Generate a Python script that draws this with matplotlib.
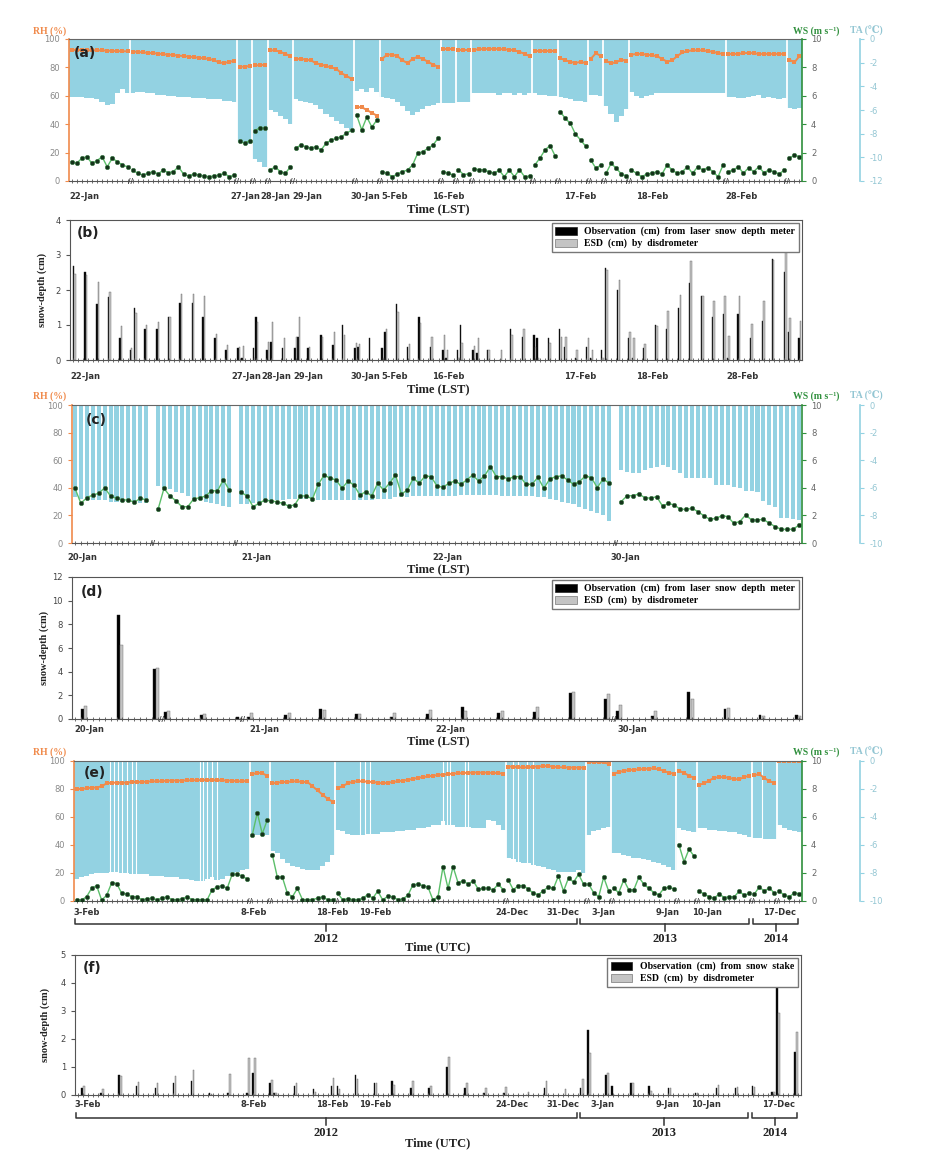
import numpy as np
import matplotlib
matplotlib.use("Agg")
import matplotlib.pyplot as plt
from matplotlib.patches import Patch
from matplotlib.ticker import MultipleLocator

plt.rcParams['axes.unicode_minus'] = False
plt.rcParams['font.family'] = ['DejaVu Sans']

# ---------------- data ----------------
# (a) meteorology, LST, events split into segments
a_seg_len = [12, 21, 3, 3, 5, 12, 5, 12, 3, 3, 12, 5, 6, 3, 5, 19, 12, 3]
a_rh = [92.3, 92.3, 92.2, 92.1, 92, 92, 92, 91.8, 91.6, 91.5, 91.4, 91.3,
        91, 91, 90.5, 90.3, 90, 89.7, 89.3, 89, 88.7, 88.3, 88, 87.6, 87.2, 86.8, 86.4, 86, 85, 83.5, 83, 84, 84.5,
        80.5, 80.5, 81,
        81.5, 81.5, 82,
        92, 92, 91, 89.5, 88,
        86, 86, 85.5, 85, 83, 82, 81, 80, 79, 76, 74, 72,
        52, 52, 50, 48, 46,
        86, 89, 89, 88, 85, 83, 86, 87.5, 86, 84, 82, 80.5,
        93, 93, 93,
        92.5, 92.5, 92.5,
        92.5, 92.7, 93, 93, 93, 93, 92.7, 92.5, 92, 91, 89.5, 88,
        91.8, 91.8, 91.8, 91.8, 91.8,
        86.5, 85, 84, 83, 84, 83,
        86, 90, 88,
        84.5, 83, 83.5, 85.5, 84.5,
        89, 89.5, 89.5, 89, 88.5, 88, 86, 84, 85, 88, 90.5, 91.5, 92, 92, 92, 91.5, 91, 90, 89.5,
        89.5, 89.5, 89.5, 90, 90.2, 90, 89.5, 89.5, 89.5, 89.5, 89.5, 89.5,
        85.5, 83.5, 88]
a_ws = [1.36, 1.24, 1.6, 1.71, 1.24, 1.43, 1.71, 1.0, 1.6, 1.36, 1.13, 1.0,
        0.77, 0.54, 0.42, 0.54, 0.66, 0.49, 0.77, 0.59, 0.66, 1.0, 0.49, 0.35, 0.49, 0.42, 0.35, 0.3, 0.35, 0.42, 0.54, 0.3, 0.42,
        2.8, 2.65, 2.85,
        3.55, 3.75, 3.7,
        0.77, 1.0, 0.66, 0.54, 1.0,
        2.3, 2.53, 2.42, 2.3, 2.42, 2.18, 2.65, 2.89, 3.0, 3.12, 3.35, 3.59,
        4.65, 3.6, 4.5, 3.8, 4.3,
        0.66, 0.54, 0.3, 0.49, 0.66, 0.77, 1.13, 1.95, 2.06, 2.3, 2.53, 3.0,
        0.66, 0.54, 0.42,
        0.8, 0.45, 0.5,
        0.85, 0.8, 0.77, 0.66, 0.54, 0.77, 0.3, 0.77, 0.3, 0.8, 0.3, 0.35,
        1.13, 1.6, 2.18, 2.5, 1.77,
        4.88, 4.41, 4.05, 3.3, 2.89, 2.45,
        1.48, 0.9, 1.13,
        0.54, 1.24, 0.9, 0.5, 0.35,
        0.77, 0.54, 0.3, 0.49, 0.54, 0.66, 0.49, 1.13, 0.77, 0.54, 0.66, 1.0, 0.54, 1.0, 0.77, 0.94, 0.66, 0.3, 1.13,
        0.66, 0.77, 1.0, 0.54, 0.94, 0.66, 1.0, 0.59, 0.77, 0.66, 0.49, 0.77,
        1.6, 1.83, 1.71]
a_ta = [-4.9, -4.9, -4.9, -5.0, -5.0, -5.1, -5.3, -5.6, -5.5, -4.6, -4.2, -4.6,
        -4.6, -4.5, -4.5, -4.6, -4.6, -4.7, -4.7, -4.8, -4.8, -4.9, -4.9, -4.9, -5.0, -5.0, -5.0, -5.1, -5.1, -5.1, -5.2, -5.2, -5.3,
        -8.7, -8.8, -8.9,
        -10.1, -10.4, -10.8,
        -6.0, -6.2, -6.5, -6.8, -7.2,
        -5.1, -5.2, -5.3, -5.4, -5.6, -5.9, -6.3, -6.6, -6.9, -7.2, -7.5, -7.7,
        -4.4, -4.2, -4.5, -4.1, -4.5,
        -4.9, -5.0, -5.1, -5.3, -5.7, -6.1, -6.4, -6.2, -5.9, -5.7, -5.6, -5.4,
        -5.4, -5.4, -5.4,
        -5.3, -5.3, -5.3,
        -4.6, -4.6, -4.6, -4.6, -4.6, -4.7, -4.6, -4.6, -4.7, -4.6, -4.7, -4.6,
        -4.6, -4.7, -4.7, -4.8, -4.8,
        -4.9, -5.0, -5.1, -5.2, -5.2, -5.3,
        -4.7, -4.7, -4.8,
        -5.7, -6.3, -7.0, -6.5, -5.9,
        -4.5, -4.8, -5.0, -4.8, -4.7, -4.6, -4.6, -4.6, -4.6, -4.6, -4.6, -4.6, -4.6, -4.6, -4.6, -4.6, -4.6, -4.6, -4.6,
        -4.9, -4.9, -5.0, -5.0, -4.9, -4.8, -4.7, -5.0, -4.9, -5.0, -5.1, -5.0,
        -5.8, -5.9, -5.8]
ab_tick_pos = [2.6, 34.1, 40.0, 46.3, 57.7, 63.4, 74.0, 99.9, 114.0, 131.7]
ab_tick_lab = ['22-Jan', '27-Jan', '28-Jan', '29-Jan', '30-Jan', '5-Feb', '16-Feb', '17-Feb', '18-Feb', '28-Feb']

# (b) snow depth
b_pos = [0.3, 2.6, 5.0, 7.2, 9.5, 11.5, 12.3, 14.4, 16.8, 19.0, 21.3, 23.7, 25.8, 28.2, 30.3,
         32.7, 33.5, 35.7, 36.2, 38.4, 39.2, 41.5, 43.9, 44.5, 46.5, 49.0, 51.4, 53.3, 55.7, 56.3,
         58.6, 61.0, 61.6, 63.9, 66.1, 68.3, 70.6, 73.0, 73.6, 75.9, 76.5, 78.9, 79.7, 81.8, 84.2,
         86.3, 88.7, 90.9, 91.5, 93.8, 96.0, 96.9, 99.1, 101.3, 102.1, 104.2, 105.0, 107.4, 109.5, 110.3,
         112.5, 114.8, 117.0, 119.4, 121.5, 123.9, 126.0, 128.2, 129.0, 131.1, 133.5, 135.9, 137.8, 140.2, 141.0,
         143.1]
b_obs = [2.7, 2.52, 1.6, 1.8, 0.62, 0.3, 1.5, 0.9, 0.9, 1.22, 1.62, 1.62, 1.22, 0.62, 0.29,
         0.33, 0.05, 0.33, 1.22, 0.29, 0.52, 0.33, 0.33, 0.67, 0.33, 0.71, 0.43, 1.0, 0.33, 0.38,
         0.62, 0.33, 0.81, 1.6, 0.38, 1.22, 0.38, 0.3, 0.05, 0.29, 1.0, 0.3, 0.19, 0.3, 0.0,
         0.9, 0.67, 0.71, 0.62, 0.62, 0.9, 0.38, 0.05, 0.38, 0.05, 0.3, 2.62, 2.0, 0.62, 0.05,
         0.33, 1.0, 0.9, 1.5, 2.21, 1.84, 1.22, 1.31, 0.05, 1.31, 0.62, 1.12, 2.9, 2.52, 0.81,
         0.62]
b_esd = [2.45, 2.43, 2.24, 1.95, 0.97, 0.33, 1.33, 1.0, 1.1, 1.22, 1.88, 1.9, 1.84, 0.74, 0.43,
         0.38, 0.4, 0.05, 1.1, 0.52, 1.1, 0.62, 0.67, 1.22, 0.38, 0.67, 0.81, 0.71, 0.48, 0.45,
         0.0, 0.05, 0.9, 1.38, 0.45, 1.05, 0.67, 0.71, 0.3, 0.05, 0.48, 0.4, 0.62, 0.3, 0.3,
         0.71, 0.9, 0.38, 0.05, 0.48, 0.67, 0.67, 0.3, 0.62, 0.3, 0.05, 2.57, 2.29, 0.81, 0.62,
         0.45, 0.97, 1.4, 1.86, 2.83, 1.84, 1.69, 1.83, 0.69, 1.83, 1.03, 1.7, 2.86, 3.4, 1.19,
         1.12]

# (c) meteorology, LST
c_seg_len = [13, 13, 63, 31]
c_ws = [3.96, 2.88, 3.28, 3.48, 3.6, 4.0, 3.4, 3.24, 3.12, 3.12, 2.95, 3.24, 3.12,
        2.44, 3.96, 3.4, 3.07, 2.63, 2.63, 3.19, 3.28, 3.4, 3.79, 3.77, 4.57, 3.84,
        3.67, 3.41, 2.63, 2.87, 3.12, 3.04, 2.99, 2.87, 2.68, 2.75,
        3.41, 3.41, 3.19, 4.25, 4.93, 4.69, 4.57, 3.96, 4.49, 4.2,
        3.48, 3.72, 3.41, 4.33, 3.84, 4.33, 4.93, 3.55, 3.84, 4.69,
        4.33, 4.86, 4.81, 4.13, 4.04, 4.33, 4.49, 4.25, 4.57, 4.93,
        4.49, 4.86, 5.53, 4.81, 4.81, 4.64, 4.81, 4.81, 4.25, 4.25,
        4.76, 3.96, 4.64, 4.81, 4.86, 4.57, 4.25, 4.45, 4.86, 4.74,
        4.02, 4.64, 4.33,
        2.99, 3.41, 3.43, 3.55, 3.29, 3.24, 3.36, 2.68, 2.87, 2.75,
        2.44, 2.44, 2.51, 2.27, 1.96, 1.71, 1.79, 1.98, 1.91, 1.43,
        1.55, 2.03, 1.67, 1.67, 1.71, 1.43, 1.19, 0.99, 0.99, 0.99,
        1.31]
c_ta = [-6.7, -6.8, -6.8, -6.9, -6.9, -6.9, -7.0, -7.0, -7.0, -7.0, -7.0, -7.1, -7.1,
        -5.9, -6.0, -6.1, -6.3, -6.4, -6.6, -6.8, -6.9, -7.0, -7.1, -7.2, -7.3, -7.4,
        -7.2, -7.2, -7.1, -7.1, -7.0, -6.9, -6.9, -6.9, -6.8, -6.8,
        -6.8, -6.8, -6.8, -6.9, -6.9, -6.9, -6.9, -6.9, -6.9, -6.9,
        -6.9, -6.9, -6.9, -6.8, -6.8, -6.8, -6.7, -6.7, -6.7, -6.6,
        -6.6, -6.6, -6.6, -6.6, -6.6, -6.6, -6.6, -6.5, -6.5, -6.5,
        -6.5, -6.5, -6.5, -6.5, -6.6, -6.6, -6.6, -6.6, -6.6, -6.6,
        -6.7, -6.7, -6.8, -6.9, -7.0, -7.1, -7.2, -7.4, -7.5, -7.7,
        -7.8, -8.0, -8.4,
        -4.71, -4.83, -4.95, -4.95, -4.71, -4.59, -4.52, -4.35, -4.47, -4.71,
        -4.95, -5.31, -5.31, -5.31, -5.31, -5.27, -5.8, -5.8, -5.8, -5.92,
        -6.04, -6.21, -6.21, -6.28, -6.93, -7.25, -7.42, -8.21, -8.21, -8.29,
        -8.33]
c_tick_pos = [1.2, 30.5, 62.7, 92.8]
cd_tick_lab = ['20-Jan', '21-Jan', '22-Jan', '30-Jan']

# (d) snow depth
d_pos = [1.5, 7.6, 13.7, 15.5, 21.6, 27.7, 29.5, 35.8, 41.7, 47.7, 53.6, 59.7,
         65.6, 71.7, 77.7, 83.7, 89.7, 91.7, 97.6, 103.7, 109.8, 115.7, 121.8]
d_obs = [0.85, 8.76, 4.24, 0.62, 0.31, 0.2, 0.2, 0.31, 0.82, 0.42, 0.2, 0.42,
         1.02, 0.54, 0.62, 2.23, 1.67, 0.65, 0.25, 2.32, 0.82, 0.34, 0.31]
d_esd = [1.1, 6.27, 4.29, 0.65, 0.42, 0.06, 0.54, 0.48, 0.76, 0.42, 0.54, 0.76,
         0.65, 0.7, 1.02, 2.29, 2.15, 1.21, 0.65, 1.67, 0.96, 0.28, 0.23]
d_tick_pos = [2.4, 31.9, 63.2, 93.9]
d_breaks = [14.5, 28.3, 90.8]

# (e) meteorology, UTC
e_seg_len = [35, 4, 13, 34, 16, 5, 13, 4, 11, 5, 5]
e_rh = [80, 80, 80.5, 81, 81, 82, 84, 84.5, 84.5, 84.5, 84.5, 85, 85, 85, 85.2, 85.5, 85.5, 85.5, 86, 86,
        86, 86, 86.2, 86.2, 86.4, 86.4, 86.4, 86.4, 86.3, 86.2, 86, 86, 85.5, 85.5, 85.8,
        90.5, 91.7, 91.2, 89.5,
        84, 84.5, 85, 85, 85.5, 85.5, 85, 85, 82, 79, 76, 73, 71,
        80.5, 82, 84, 85.2, 85.5, 85.5, 85.2, 85, 84.5, 84, 84.5, 85, 85.5, 86, 86.5, 87.2, 88, 88.5, 89, 89.5,
        90, 90.3, 90.6, 91, 91.2, 91.4, 91.6, 91.7, 91.7, 91.7, 91.6, 91.5, 91.3, 91,
        96, 96, 95.5, 95.5, 95.5, 96, 96, 96.4, 96.4, 96, 95.5, 95.5, 95.3, 95.3, 95.3, 95.3,
        99.3, 99.3, 99.2, 99, 98,
        91, 92, 93, 93.5, 93.8, 94, 94.3, 94.5, 94.8, 94, 93, 91.5, 91,
        93, 91.5, 89.5, 88,
        83, 84, 86, 88, 88.5, 88.5, 88, 87, 87, 88.5, 89.5,
        90, 90.5, 88, 85.5, 84.5,
        100, 100, 100, 100, 100]
e_ws = [0.07, 0.07, 0.3, 0.9, 1.1, 0.07, 0.4, 1.3, 1.25, 0.55, 0.5, 0.3, 0.3, 0.1, 0.15, 0.2, 0.1, 0.2, 0.3, 0.1,
        0.1, 0.15, 0.3, 0.1, 0.1, 0.1, 0.07, 0.8, 1.0, 1.1, 0.9, 1.9, 1.9, 1.8, 1.55,
        4.7, 6.3, 4.8, 5.8,
        3.3, 1.7, 1.7, 0.55, 0.3, 0.9, 0.1, 0.1, 0.1, 0.2, 0.3, 0.1, 0.1,
        0.55, 0.1, 0.15, 0.1, 0.1, 0.2, 0.45, 0.2, 0.7, 0.07, 0.35, 0.3, 0.1, 0.15, 0.4, 1.15, 1.2, 1.1, 1.0, 0.07,
        0.3, 2.45, 0.9, 2.45, 1.3, 1.45, 1.2, 1.45, 0.85, 0.9, 0.9, 0.8, 1.2, 0.8,
        1.5, 0.8, 1.1, 1.1, 0.85, 0.55, 0.45, 0.75, 1.0, 0.9, 1.8, 0.7, 1.65, 1.35, 1.9, 1.2,
        1.2, 0.6, 0.3, 1.7, 0.7,
        0.9, 0.6, 1.5, 0.8, 0.8, 1.7, 1.2, 0.9, 0.6, 0.45, 0.9, 1.0, 0.85,
        4.0, 2.8, 3.7, 3.2,
        0.7, 0.5, 0.3, 0.2, 0.5, 0.25, 0.3, 0.3, 0.7, 0.4, 0.55,
        0.5, 1.0, 0.7, 0.95, 0.55,
        0.7, 0.4, 0.3, 0.6, 0.5]
e_ta = [-8.4, -8.3, -8.2, -8.1, -8.0, -8.0, -8.0, -7.9, -7.9, -8.0, -8.0, -8.1, -8.1, -8.1, -8.1, -8.2, -8.2, -8.2, -8.3, -8.3,
        -8.3, -8.4, -8.4, -8.5, -8.6, -8.6, -8.4, -8.3, -8.5, -8.4, -8.2, -8.0, -7.9, -7.8, -7.7,
        -5.3, -5.3, -5.3, -5.3,
        -6.4, -6.6, -7.0, -7.3, -7.5, -7.6, -7.7, -7.8, -7.8, -7.8, -7.5, -7.2, -6.7,
        -4.9, -5.0, -5.2, -5.3, -5.3, -5.3, -5.2, -5.2, -5.2, -5.1, -5.1, -5.1, -5.0, -5.0, -4.9, -4.9, -4.8, -4.8, -4.7, -4.6,
        -4.6, -4.3, -4.6, -4.6, -4.7, -4.7, -4.7, -4.8, -4.8, -4.8, -4.2, -4.3, -4.6, -4.9,
        -6.9, -7.0, -7.2, -7.3, -7.3, -7.4, -7.5, -7.6, -7.7, -7.8, -7.9, -7.9, -7.9, -7.9, -7.8, -8.0,
        -5.3, -5.0, -4.9, -4.8, -4.7,
        -6.6, -6.6, -6.7, -6.8, -6.9, -6.9, -7.0, -7.1, -7.2, -7.3, -7.4, -7.6, -7.8,
        -4.8, -4.9, -5.0, -5.1,
        -4.8, -4.8, -4.9, -4.9, -5.0, -5.0, -5.1, -5.1, -5.2, -5.3, -5.4,
        -5.5, -5.5, -5.6, -5.6, -5.6,
        -4.6, -4.8, -4.9, -5.0, -5.1]
# hours with no temperature record (thin white lines inside the blue)
e_gap_pos = [6.7, 7.5, 8.3, 9.1, 10.1, 11.1, 11.9, 24.6, 25.2, 26.0, 27.0, 28.0,
             56.5, 57.5, 58.5, 73.0, 73.8, 74.4, 77.4, 78.0, 87.0, 88.0, 89.7, 90.9, 136.5]
ef_tick_pos = [2.1, 35.2, 50.9, 59.5, 86.7, 96.9, 104.9, 117.8, 125.6, 140.1]
ef_tick_lab = ['3-Feb', '8-Feb', '18-Feb', '19-Feb', '24-Dec', '31-Dec', '3-Jan', '9-Jan', '10-Jan', '17-Dec']
years = ['2012', '2013', '2014']
year_start = [-0.3, 100.3, 134.8]
year_end = [99.7, 134.0, 143.7]

# (f) snow depth
f_pos = [1.1, 4.9, 8.5, 12.0, 15.8, 19.4, 23.0, 26.6, 30.2, 34.0, 35.2, 38.7, 39.5, 43.5, 47.3,
         50.9, 52.1, 55.7, 59.5, 63.0, 66.8, 70.4, 74.0, 77.6, 81.4, 85.4, 89.9, 93.5, 97.3, 100.7,
         102.1, 105.7, 106.9, 110.7, 114.4, 118.2, 123.6, 127.8, 131.6, 135.0, 138.9, 139.9, 143.5]
f_obs = [0.24, 0.08, 0.71, 0.32, 0.24, 0.42, 0.5, 0.08, 0.08, 0.08, 0.8, 0.42, 0.08, 0.32, 0.23,
         0.32, 0.32, 0.71, 0.42, 0.5, 0.24, 0.24, 1.01, 0.24, 0.06, 0.08, 0.0, 0.24, 0.0, 0.24,
         2.32, 0.71, 0.32, 0.42, 0.32, 0.24, 0.08, 0.24, 0.24, 0.32, 0.12, 4.01, 1.52]
f_esd = [0.33, 0.2, 0.68, 0.48, 0.42, 0.68, 0.89, 0.05, 0.75, 1.31, 1.32, 0.54, 0.08, 0.42, 0.12,
         0.6, 0.2, 0.56, 0.42, 0.36, 0.49, 0.33, 1.35, 0.42, 0.24, 0.3, 0.12, 0.49, 0.2, 0.56,
         1.51, 0.8, 0.0, 0.42, 0.15, 0.24, 0.08, 0.36, 0.3, 0.3, 0.12, 2.94, 2.24]

leg_laser = ['Observation  (cm)  from  laser  snow  depth  meter', 'ESD  (cm)  by  disdrometer']
leg_stake = ['Observation  (cm)  from  snow  stake', 'ESD  (cm)  by  disdrometer']

# ---------------- style ----------------
ORANGE = '#f08a4b'
LGREEN = '#5cbf6a'
DKGREEN = '#14331a'
GREEN = '#2f8f3c'
BLUE = '#93d2e2'
BLUETXT = '#93c6d3'
SERIF = ['Liberation Serif', 'DejaVu Serif', 'DejaVu Sans']
W, H = 930, 1152

fig = plt.figure(figsize=(9.3, 11.52), dpi=100)


def rect(l, t, r, b):
    return [l / W, 1 - b / H, (r - l) / W, (b - t) / H]


def ftxt(x, y, s, **kw):
    kw.setdefault('ha', 'center')
    kw.setdefault('va', 'center')
    fig.text(x / W, 1 - y / H, s, **kw)


def seg_x(seg_len, gap):
    out, s = [], 0
    for n in seg_len:
        out.append(np.arange(s, s + n))
        s += n + gap
    return out


def split(vals, seg_len):
    return np.split(np.asarray(vals, float), np.cumsum(seg_len)[:-1])


def date_axis(ax, ticks, labels, pad):
    ax.set_xticks(ticks)
    ax.set_xticklabels(labels, fontsize=6, fontweight='bold', color='#333')
    ax.tick_params(axis='x', which='major', length=0, pad=pad)
    ax.xaxis.set_minor_locator(MultipleLocator(1))
    ax.tick_params(axis='x', which='minor', length=2.5, width=0.6, direction='inout', color='#555')


def met_panel(r, seg_len, gap, ws, ta, rh, ta_min, bar_w, ticks, labels, pad, gaps=()):
    ax = fig.add_axes(r)
    ax_ta = ax.twinx()
    ax_ws = ax.twinx()
    ax_ta.set_zorder(1)
    ax.set_zorder(2)
    ax_ws.set_zorder(3)
    ax.patch.set_visible(False)
    ax_ws.patch.set_visible(False)

    xs = seg_x(seg_len, gap)
    ws_s = split(ws, seg_len)
    ta_s = split(ta, seg_len)
    rh_s = split(rh, seg_len) if rh is not None else None
    for i, x in enumerate(xs):
        ax_ta.bar(x, ta_s[i], width=bar_w, color=BLUE, linewidth=0)
        if rh_s is not None:
            ax.plot(x, rh_s[i], '-s', color=ORANGE, lw=1.4, ms=2.2, mew=0)
        ax_ws.plot(x, ws_s[i], '-', color=LGREEN, lw=1.0)
        ax_ws.plot(x, ws_s[i], 'o', ms=3.2, mfc=DKGREEN, mec='#3a7a44', mew=0.4)

    for g in gaps:
        ax_ta.axvline(g, color='white', lw=0.8)
    bnd = [(xs[i][-1] + xs[i + 1][0]) / 2 for i in range(len(xs) - 1)]
    for b in bnd:
        if gap == 0:
            ax_ta.axvline(b, color='white', lw=1.3)
        ax.text(b, 0, '//', transform=ax.get_xaxis_transform(), ha='center', va='center',
                fontsize=5, color='#333', fontweight='bold')

    ax.set_xlim(-0.5, xs[-1][-1] + 0.5)
    ax.set_ylim(0, 100)
    ax_ws.set_ylim(0, 10)
    ax_ta.set_ylim(ta_min, 0)
    ax.set_yticks(np.arange(0, 101, 20))
    ax_ws.set_yticks(np.arange(0, 11, 2))
    ax_ta.set_yticks(np.arange(0, ta_min - 1, -2))

    for a in (ax_ta, ax_ws):
        for s in ('left', 'top', 'bottom'):
            a.spines[s].set_visible(False)
    ax.spines['right'].set_visible(False)
    ax.spines['left'].set_color(ORANGE)
    ax.spines['left'].set_linewidth(1.2)
    ax.spines['top'].set_color('#666')
    ax.spines['bottom'].set_color('#555')
    ax_ws.spines['right'].set_color(GREEN)
    ax_ws.spines['right'].set_linewidth(1.2)
    ax_ta.spines['right'].set_position(('outward', 42))
    ax_ta.spines['right'].set_color(BLUE)
    ax_ta.spines['right'].set_linewidth(1.2)

    ax.tick_params(axis='y', colors=ORANGE, labelcolor='#888', labelsize=6, length=3)
    ax_ws.tick_params(axis='y', colors=GREEN, labelcolor='#666', labelsize=6, length=3)
    ax_ta.tick_params(axis='y', colors=BLUE, labelcolor=BLUETXT, labelsize=6, length=3)
    date_axis(ax, ticks, labels, pad)
    return ax


def bar_panel(r, pos, obs, esd, ymax, w, off, ticks, labels, leg_labels, xmax, pad, breaks=()):
    ax = fig.add_axes(r)
    pos = np.asarray(pos, float)
    ax.bar(pos - off / 2, obs, width=w, color='black', edgecolor='#222', lw=0.3)
    ax.bar(pos + off / 2, esd, width=w, color='#c4c4c4', edgecolor='#666', lw=0.3)
    ax.set_xlim(-0.5, xmax)
    ax.set_ylim(0, ymax)
    ax.set_yticks(np.arange(0, ymax + 0.1, 2 if ymax > 6 else 1))
    ax.tick_params(axis='y', labelsize=6, labelcolor='#444', length=3, color='#555')
    for s in ax.spines.values():
        s.set_color('#555')
    date_axis(ax, ticks, labels, pad)
    for b in breaks:
        ax.text(b, 0, '//', transform=ax.get_xaxis_transform(), ha='center', va='center',
                fontsize=5, color='#333', fontweight='bold')
    handles = [Patch(facecolor='black', edgecolor='#222', lw=0.5),
               Patch(facecolor='#c4c4c4', edgecolor='#777', lw=0.5)]
    ax.legend(handles, leg_labels, loc='upper right', fancybox=False, edgecolor='#777',
              framealpha=1, borderaxespad=0.35, handlelength=2.2, handleheight=0.8,
              labelspacing=0.25, borderpad=0.35,
              prop={'family': SERIF, 'weight': 'bold', 'size': 7})
    return ax


def brace(ax, x0, x1, label):
    tr = ax.get_xaxis_transform()
    xm = (x0 + x1) / 2
    ax.plot([x0, x0, x1, x1], [-0.13, -0.165, -0.165, -0.13], color='#333', lw=1.1,
            transform=tr, clip_on=False)
    ax.plot([xm, xm], [-0.165, -0.215], color='#333', lw=1.1, transform=tr, clip_on=False)
    ax.text(xm, -0.27, label, transform=tr, ha='center', va='center', fontsize=9,
            fontweight='bold', family=SERIF, color='#222')


def axis_titles(y):
    ftxt(50, y, 'RH (%)', color=ORANGE, fontsize=7, fontweight='bold', family=SERIF)
    ftxt(816, y, 'WS (m s⁻¹)', color=GREEN, fontsize=7, fontweight='bold', family=SERIF)
    ftxt(866, y, 'TA (℃)', color=BLUETXT, fontsize=7, fontweight='bold', family=SERIF)


def time_label(y, s):
    ftxt(438, y, s, fontsize=9, fontweight='bold', family=SERIF, color='#222')


def ylabel(x, y):
    ftxt(x, y, 'snow-depth (cm)', rotation=90, fontsize=7.5, fontweight='bold',
         family=SERIF, color='#222')


# ---------------- panels ----------------
# (a)
met_panel(rect(69, 39, 802, 181), a_seg_len, 0, a_ws, a_ta, a_rh, -12, 1.04,
          ab_tick_pos, ab_tick_lab, 7.9)
axis_titles(31)
time_label(209, 'Time (LST)')
ftxt(85, 53, '(a)', fontsize=10, fontweight='bold', color='#222')

# (b)
bar_panel(rect(70, 220, 802, 360), b_pos, b_obs, b_esd, 4, 0.28, 0.3,
          ab_tick_pos, ab_tick_lab, leg_laser, 143.5, 8.4)
time_label(389, 'Time (LST)')
ylabel(42, 290)
ftxt(88, 233, '(b)', fontsize=10, fontweight='bold', color='#222')

# (c)
met_panel(rect(72, 405, 802, 543), c_seg_len, 1, c_ws, c_ta, None, -10, 0.68,
          c_tick_pos, cd_tick_lab, 7.0)
axis_titles(396)
time_label(569, 'Time (LST)')
ftxt(96, 420, '(c)', fontsize=10, fontweight='bold', color='#222')

# (d)
bar_panel(rect(72, 577, 802, 719), d_pos, d_obs, d_esd, 12, 0.5, 0.55,
          d_tick_pos, cd_tick_lab, leg_laser, 122.5, 4.0, breaks=d_breaks)
time_label(741, 'Time (LST)')
ylabel(44, 648)
ftxt(92, 592, '(d)', fontsize=10, fontweight='bold', color='#222')

# (e)
ax_e = met_panel(rect(74, 761, 802, 901), e_seg_len, 0, e_ws, e_ta, e_rh, -10, 1.04,
                 ef_tick_pos, ef_tick_lab, 5.0, gaps=e_gap_pos)
for y0, y1, lab in zip(year_start, year_end, years):
    brace(ax_e, y0, y1, lab)
axis_titles(752)
time_label(947, 'Time (UTC)')
ftxt(95, 773, '(e)', fontsize=10, fontweight='bold', color='#222')

# (f)
ax_f = bar_panel(rect(75, 955, 801, 1095), f_pos, f_obs, f_esd, 5, 0.32, 0.4,
                 ef_tick_pos, ef_tick_lab, leg_stake, 144.5, 3.6)
for y0, y1, lab in zip(year_start, year_end, years):
    brace(ax_f, y0, y1, lab)
time_label(1143, 'Time (UTC)')
ylabel(45, 1025)
ftxt(92, 968, '(f)', fontsize=10, fontweight='bold', color='#222')

fig.savefig('out.png', dpi=100)
